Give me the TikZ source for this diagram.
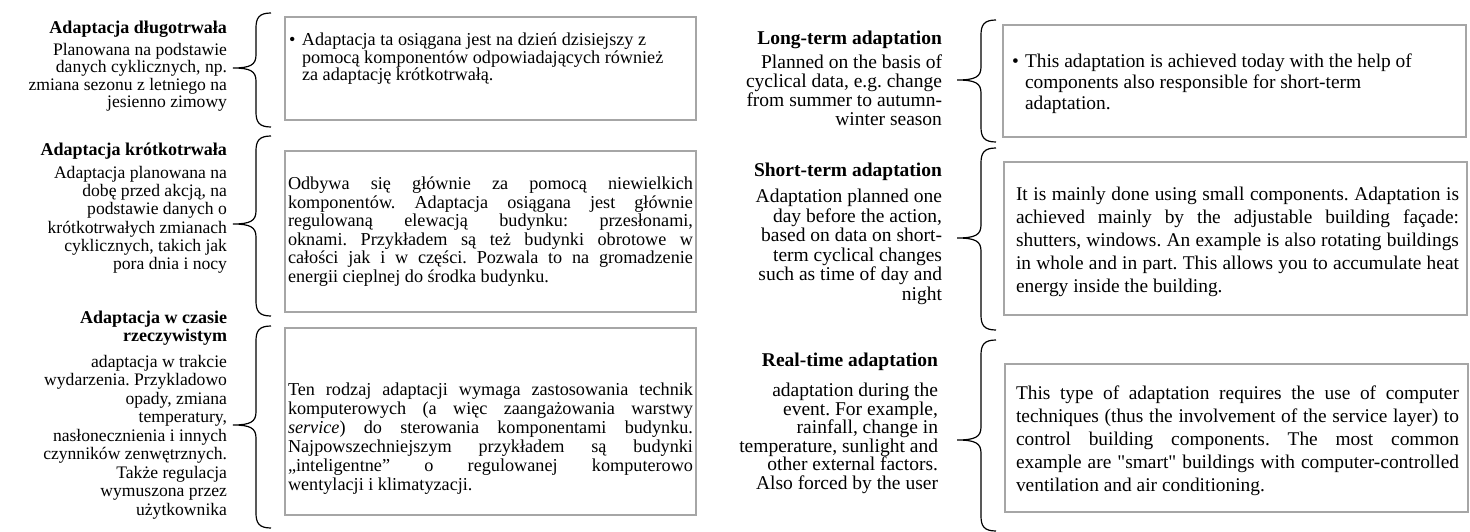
\documentclass[tikz,border=0pt]{standalone}
\usepackage{fontspec}
\setmainfont{Liberation Serif}[Ligatures=TeXOff]
\definecolor{boxgray}{HTML}{A6A6A6}
\tikzset{
  ltitle/.style={font=\fontsize{18}{#1}\selectfont\bfseries, align=right, inner sep=0pt, outer sep=0pt, anchor=north east},
  lbody/.style={font=\fontsize{17.6}{#1}\selectfont, align=right, inner sep=0pt, outer sep=0pt, anchor=north east},
  rtitle/.style={font=\fontsize{19.5}{#1}\selectfont\bfseries, align=right, inner sep=0pt, outer sep=0pt, anchor=north east},
  rbody/.style={font=\fontsize{19.5}{#1}\selectfont, align=right, inner sep=0pt, outer sep=0pt, anchor=north east},
  panel/.style={draw=boxgray, line width=1.5pt, inner sep=0pt, outer sep=0pt, anchor=north west},
  ltext/.style={font=\fontsize{18.2}{#1}\selectfont, inner sep=0pt, outer sep=0pt, anchor=north west},
  rtext/.style={font=\fontsize{19.4}{#1}\selectfont, inner sep=0pt, outer sep=0pt, anchor=north west},
  bracepath/.style={draw=black, line width=1.2pt}
}
\newcommand{\mybrace}[5]{%
  \draw[bracepath] ({#1+15},#2) .. controls ({#1+3},#2) and (#1,{#2+5}) .. (#1,{#2+15})
    -- (#1,{#3-13}) .. controls (#1,{#3-3}) and ({#1-6},#3) .. (#5,#3)
    .. controls ({#1-6},#3) and (#1,{#3+3}) .. (#1,{#3+13})
    -- (#1,{#4-15}) .. controls (#1,{#4-5}) and ({#1+3},#4) .. ({#1+15},#4);}
\begin{document}
\frenchspacing
\begin{tikzpicture}[x=1pt,y=-1pt]
\useasboundingbox (0,0) rectangle (1470,532);

% ---------------- Polish half ----------------
\node[ltitle=18] (pt1) at (227,21) {Adaptacja długotrwała};
\node[lbody=17.5] (pl1) at (227,43) {Planowana na podstawie\\danych cyklicznych, np.\\zmiana sezonu z letniego na\\jesienno zimowy};

\node[ltitle=18] (pt2) at (227,143) {Adaptacja krótkotrwała};
\node[lbody=18.3] (pl2) at (227,166) {Adaptacja planowana na\\dobę przed akcją, na\\podstawie danych o\\krótkotrwałych zmianach\\cyklicznych, takich jak\\pora dnia i nocy};

\node[ltitle=18] (pt3) at (227,311) {Adaptacja w czasie\\rzeczywistym};
\node[lbody=18.5] (pl3) at (227,355) {adaptacja w trakcie\\wydarzenia. Przykladowo\\opady, zmiana\\temperatury,\\nasłonecznienia i innych\\czynników zenwętrznych.\\Także regulacja\\wymuszona przez\\użytkownika};

\mybrace{256}{13}{68}{127}{233}
\mybrace{256}{136}{224}{316}{233}
\mybrace{256}{326}{425}{528}{233}

\node[panel, minimum width=411pt, minimum height=103pt] (pb1) at (285,17) {};
\node[panel, minimum width=411pt, minimum height=161pt] (pb2) at (285,151) {};
\node[panel, minimum width=411pt, minimum height=187pt] (pb3) at (285,328) {};

\node[ltext=17.5, align=left] (px1) at (289,33) {\makebox[13pt][l]{\textbullet}Adaptacja ta osiągana jest na dzień dzisiejszy z\\\hspace*{13pt}pomocą komponentów odpowiadających również\\\hspace*{13pt}za adaptację krótkotrwałą.};

\node[ltext=18.5, text width=405pt, align=justify] (px2) at (288,177) {Odbywa się głównie za pomocą niewielkich\linebreak komponentów. Adaptacja osiągana jest głównie\linebreak regulowaną elewacją budynku: przesłonami,\linebreak oknami. Przykładem są też budynki obrotowe w\linebreak całości jak i w części. Pozwala to na gromadzenie\linebreak energii cieplnej do środka budynku.};

\node[ltext=19, text width=405pt, align=justify] (px3) at (288,383) {Ten rodzaj adaptacji wymaga zastosowania technik\linebreak komputerowych (a więc zaangażowania warstwy\linebreak \textit{service}) do sterowania komponentami budynku.\linebreak Najpowszechniejszym przykładem są budynki\linebreak „inteligentne” o regulowanej komputerowo\linebreak wentylacji i klimatyzacji.};

% ---------------- English half ----------------
\node[rtitle=19] (et1) at (942,31) {Long-term adaptation};
\node[rbody=19] (el1) at (942,55) {Planned on the basis of\\cyclical data, e.g. change\\from summer to autumn-\\winter season};

\node[rtitle=19] (et2) at (942,163) {Short-term adaptation};
\node[rbody=19.6] (el2) at (942,189) {Adaptation planned one\\day before the action,\\based on data on short-\\term cyclical changes\\such as time of day and\\night};

\node[rtitle=19] (et3) at (938,353) {Real-time adaptation};
\node[rbody=18.5] (el3) at (938,383) {adaptation during the\\event. For example,\\rainfall, change in\\temperature, sunlight and\\other external factors.\\Also forced by the user};

\mybrace{981}{20}{80}{142}{957}
\mybrace{981}{148}{238}{330}{957}
\mybrace{981}{340}{440}{531}{957}

\node[panel, minimum width=463pt, minimum height=112pt] (eb1) at (1003,25) {};
\node[panel, minimum width=463pt, minimum height=153pt] (eb2) at (1004,162) {};
\node[panel, minimum width=463pt, minimum height=148pt] (eb3) at (1005,364) {};

\node[rtext=21, align=left] (ex1) at (1012,54) {\makebox[13pt][l]{\textbullet}This adaptation is achieved today with the help of\\\hspace*{13pt}components also responsible for short-term\\\hspace*{13pt}adaptation.};

\node[rtext=23, text width=443pt, align=justify] (ex2) at (1016,187) {It is mainly done using small components. Adaptation is\linebreak achieved mainly by the adjustable building façade:\linebreak shutters, windows. An example is also rotating buildings\linebreak in whole and in part. This allows you to accumulate heat\linebreak energy inside the building.};

\node[rtext=23, text width=443pt, align=justify] (ex3) at (1016,386) {This type of adaptation requires the use of computer\linebreak techniques (thus the involvement of the service layer) to\linebreak control building components. The most common\linebreak example are "smart" buildings with computer-controlled\linebreak ventilation and air conditioning.};
\end{tikzpicture}
\end{document}
